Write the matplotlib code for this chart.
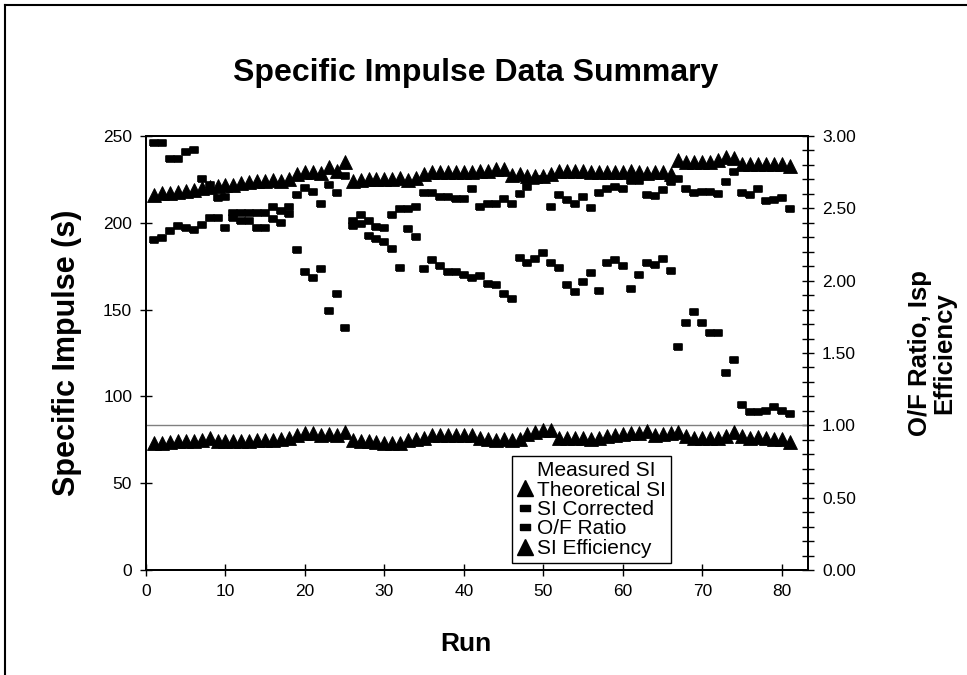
import numpy as np
import matplotlib.pyplot as plt
from matplotlib.lines import Line2D
from matplotlib.ticker import MultipleLocator, FormatStrFormatter

plt.rcParams['font.family'] = ['Liberation Sans', 'DejaVu Sans']

runs = list(range(1, 82))

# left axis (s)
theoretical_si = [216, 217, 217, 218, 218.5, 219, 220, 220.5, 221, 221.5, 222, 223, 223.5, 224, 224, 224.5, 224, 225,
                  228, 229, 229, 228.5, 232, 230, 235,
                  224, 224.5, 225, 225, 225.5, 225, 226, 224.5, 226, 228, 229, 229, 229, 229, 229, 229.5, 230,
                  230, 231, 231, 227.5, 228, 227, 227, 227, 228, 230, 230, 230, 230, 229.5,
                  229, 229, 229, 229.5, 230, 229, 228.5, 229, 229, 228,
                  236, 235, 235, 235, 235, 236, 238, 237.5, 234, 234, 234, 234, 234, 234, 233]

si_corrected = [190, 191, 195, 198, 197, 196, 199, 203, 203, 197, 203, 201, 201, 197, 197, 202, 200, 205,
                216, 220, 218, 211, 222, 217, 227,
                201, 204.5, 201,
                197.8, 197.2, 204.3, 208, 208, 209, 217, 217, 215, 215, 214, 214, 219.5, 209,
                211, 211, 213.5, 210.8, 216.4, 220.8, 224, 225, 209.3, 216, 213, 211, 214.7, 208.6,
                217.3, 219.5, 220.4, 219.5, 224, 224, 216, 215.4, 218.9, 223.7,
                225, 219.5, 217.3, 217.6, 218, 216.6, 223.3, 229.5, 217, 216, 219.3, 212.7, 213, 214.5, 208]

# right axis
of_ratio = [2.95, 2.95, 2.84, 2.84, 2.89, 2.90, 2.70, 2.66, 2.57, 2.58, 2.47, 2.47, 2.47, 2.47, 2.47, 2.51, 2.48, 2.51,
            2.21, 2.06, 2.02, 2.08, 1.79, 1.91, 1.67,
            2.38, 2.39, 2.31,
            2.29, 2.27, 2.22, 2.09, 2.36, 2.30, 2.08, 2.14, 2.10, 2.06, 2.06, 2.04, 2.02, 2.03,
            1.98, 1.97, 1.91, 1.87, 2.16, 2.12, 2.15, 2.19, 2.12, 2.09, 1.97, 1.92, 1.99, 2.05,
            1.93, 2.12, 2.14, 2.10, 1.94, 2.04, 2.12, 2.11, 2.15, 2.07,
            1.54, 1.71, 1.78, 1.71, 1.64, 1.64, 1.36, 1.45, 1.14, 1.09, 1.09, 1.10, 1.13, 1.10, 1.08]

si_efficiency = [0.875, 0.88, 0.885, 0.89, 0.89, 0.895, 0.90, 0.91, 0.895, 0.89, 0.89, 0.895, 0.895, 0.90, 0.90, 0.90, 0.905, 0.91,
                 0.935, 0.95, 0.945, 0.93, 0.94, 0.935, 0.955,
                 0.90, 0.895, 0.89, 0.885, 0.875, 0.875, 0.88, 0.90, 0.905, 0.915, 0.93, 0.935, 0.935, 0.93, 0.935, 0.93, 0.915,
                 0.905, 0.90, 0.905, 0.90, 0.905, 0.94, 0.955, 0.965, 0.97, 0.915, 0.91, 0.915, 0.91, 0.905,
                 0.91, 0.925, 0.935, 0.94, 0.945, 0.95, 0.96, 0.935, 0.94, 0.945,
                 0.955, 0.925, 0.915, 0.915, 0.915, 0.915, 0.925, 0.955, 0.925, 0.915, 0.92, 0.91, 0.905, 0.905, 0.885]

ideal_efficiency = 1.0

dash = [(-1, -0.6), (1, -0.6), (1, 0.6), (-1, 0.6), (-1, -0.6)]

fig = plt.figure(figsize=(9.67, 6.75), dpi=100)
ax = fig.add_axes([0.151, 0.1556, 0.6846, 0.6429])
ax2 = ax.twinx()

ax.plot(runs, theoretical_si, ls='none', marker='^', ms=9.5, color='black', mew=0.6)
ax.plot(runs, si_corrected, ls='none', marker=dash, ms=6.3, color='black', mew=1.2)
ax2.axhline(ideal_efficiency, color='#808080', lw=1)
ax2.plot(runs, of_ratio, ls='none', marker=dash, ms=6.3, color='black', mew=1.2)
ax2.plot(runs, si_efficiency, ls='none', marker='^', ms=9.5, color='black', mew=0.6)

ax.set_xlim(0, 83.3)
ax.set_ylim(0, 250)
ax2.set_ylim(0, 3)
ax.set_xticks(range(0, 81, 10))
ax.set_yticks(range(0, 251, 50))
ax2.set_yticks(np.arange(0, 3.01, 0.5))
ax2.yaxis.set_minor_locator(MultipleLocator(0.1))
ax2.yaxis.set_major_formatter(FormatStrFormatter('%.2f'))

ax.tick_params(axis='both', direction='inout', length=8, width=1, labelsize=12.5, pad=6)
ax2.tick_params(axis='y', which='both', direction='inout', length=8, width=1, labelsize=12.5, pad=6)

for a in (ax, ax2):
    for s in a.spines.values():
        s.set_linewidth(1.4)
        s.set_color('black')

ax.set_ylabel('Specific Impulse (s)', fontsize=22, fontweight='bold')
ax.yaxis.set_label_coords(-0.097, 0.5)
ax2.set_ylabel('O/F Ratio, Isp\nEfficiency', fontsize=18.5, fontweight='bold', multialignment='center',
               linespacing=1.0)
ax2.yaxis.set_label_coords(1.151, 0.5)
ax.set_xlabel('Run', fontsize=19, fontweight='bold')
ax.xaxis.set_label_coords(0.483, -0.143)

fig.text(0.492, 0.892, 'Specific Impulse Data Summary', fontsize=23, fontweight='bold',
         ha='center', va='center')

handles = [
    Line2D([], [], ls='none', marker='None'),
    Line2D([], [], ls='none', marker='^', ms=11, color='black'),
    Line2D([], [], ls='none', marker=dash, ms=6.5, color='black'),
    Line2D([], [], ls='none', marker=dash, ms=6.5, color='black'),
    Line2D([], [], ls='none', marker='^', ms=11, color='black'),
]
labels = ['Measured SI', 'Theoretical SI', 'SI Corrected', 'O/F Ratio', 'SI Efficiency']
leg = ax2.legend(handles, labels, loc='lower left', bbox_to_anchor=(0.553, 0.016), fontsize=15,
                 frameon=True, fancybox=False, edgecolor='black', framealpha=1,
                 handlelength=0.75, handletextpad=0.2, labelspacing=0.02, borderpad=0.25, borderaxespad=0)
leg.get_frame().set_linewidth(1)

# scanned page frame
fig.add_artist(Line2D([0.005, 1.0], [0.993, 0.993], transform=fig.transFigure, color='black', lw=1.5))
fig.add_artist(Line2D([0.005, 0.005], [0.0, 0.993], transform=fig.transFigure, color='black', lw=1.5))

fig.savefig('out.png', dpi=100)
